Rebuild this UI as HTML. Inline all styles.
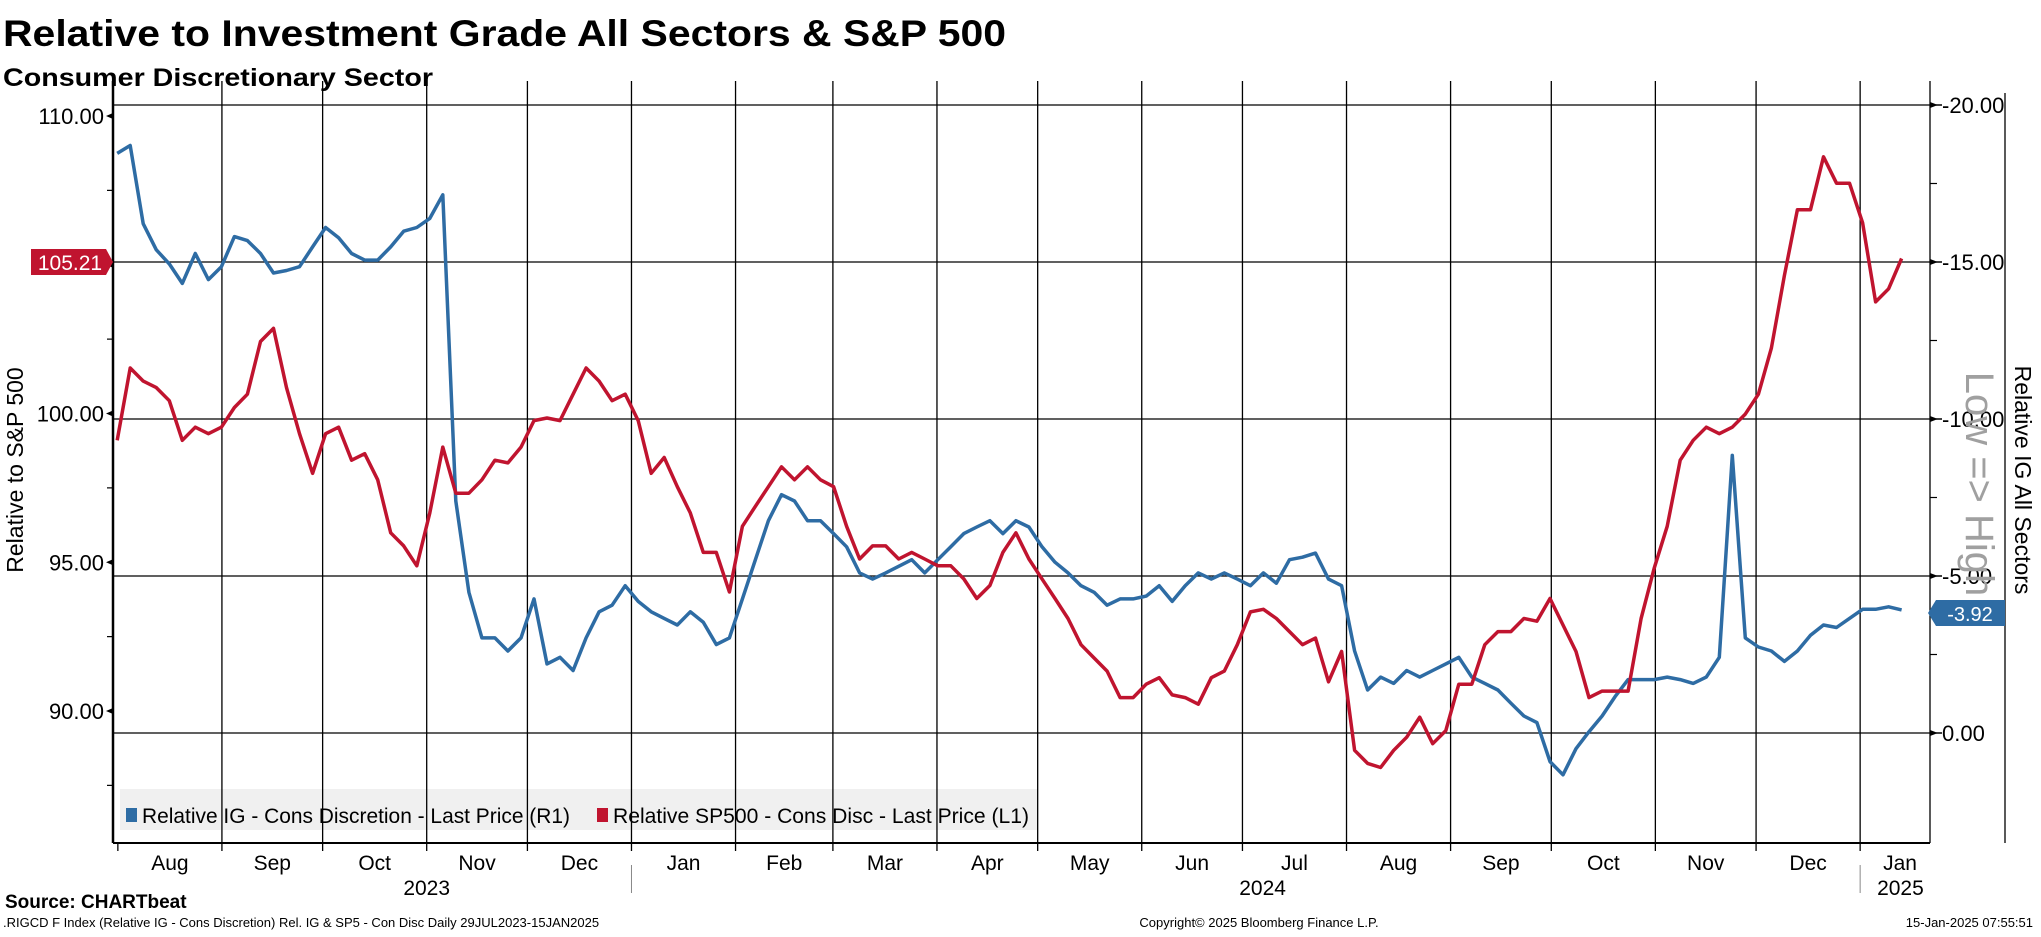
<!DOCTYPE html>
<html><head><meta charset="utf-8"><style>
html,body{margin:0;padding:0;background:#fff;}
body{width:2041px;height:932px;overflow:hidden;font-family:"Liberation Sans",sans-serif;}
svg text{font-family:"Liberation Sans",sans-serif;}
</style></head><body>
<svg id="chart" width="2041" height="932" viewBox="0 0 2041 932" xmlns="http://www.w3.org/2000/svg">
<text x="3" y="46" font-size="37" font-weight="bold" textLength="1003" lengthAdjust="spacingAndGlyphs">Relative to Investment Grade All Sectors &amp; S&amp;P 500</text>
<text x="3" y="86" font-size="25" font-weight="bold" textLength="430" lengthAdjust="spacingAndGlyphs">Consumer Discretionary Sector</text>
<g id="grid"></g>
<rect x="120" y="789" width="918" height="41" fill="#f0f0f0"/>
<g id="vgrid"></g>
<g id="series"></g>
<g id="axes"></g>
<g>
<rect x="126" y="808" width="11" height="14" fill="#2e6ca4"/>
<text x="142" y="823" font-size="21" textLength="428" lengthAdjust="spacingAndGlyphs">Relative IG - Cons Discretion - Last Price (R1)</text>
<rect x="597" y="808" width="11" height="14" fill="#c0142f"/>
<text x="613" y="823" font-size="21" textLength="416" lengthAdjust="spacingAndGlyphs">Relative SP500 - Cons Disc - Last Price (L1)</text>
</g>
<text transform="translate(23,470) rotate(-90)" text-anchor="middle" font-size="23">Relative to S&amp;P 500</text>
<text transform="translate(2015,480) rotate(90)" text-anchor="middle" font-size="23">Relative IG All Sectors</text>
<text transform="translate(1966,484) rotate(90)" text-anchor="middle" font-size="40" fill="#a0a0a0">Low =&gt; High</text>
<g>
<polygon points="31,249 106,249 113,262 106,275 31,275" fill="#c0142f"/>
<text x="70" y="270" text-anchor="middle" font-size="21" fill="#fff">105.21</text>
</g>
<g>
<polygon points="1936,600 2005,600 2005,626 1936,626 1928,613" fill="#2e6ca4"/>
<text x="1970" y="621" text-anchor="middle" font-size="20" fill="#fff">-3.92</text>
</g>
<text x="5" y="908" font-size="19" font-weight="bold">Source: CHARTbeat</text>
<text x="3" y="927" font-size="13">.RIGCD F Index (Relative IG - Cons Discretion) Rel. IG &amp; SP5 - Con Disc  Daily 29JUL2023-15JAN2025</text>
<text x="1259" y="927" text-anchor="middle" font-size="13">Copyright© 2025 Bloomberg Finance L.P.</text>
<text x="2033" y="927" text-anchor="end" font-size="13">15-Jan-2025 07:55:51</text>
</svg>
<script>
// ---- data ----
const sampleStartDay = 0.8;   // days after 2023-07-31
const sampleStepDays = 3.88;
const igValues = [-18.46,-18.71,-16.22,-15.39,-14.94,-14.32,-15.27,-14.44,-14.85,-15.81,-15.68,-15.27,-14.65,-14.73,-14.85,-15.48,-16.10,-15.77,-15.27,-15.06,-15.06,-15.48,-15.98,-16.10,-16.39,-17.14,-7.39,-4.48,-3.03,-3.03,-2.61,-3.03,-4.27,-2.20,-2.41,-1.99,-3.03,-3.86,-4.07,-4.69,-4.19,-3.86,-3.65,-3.44,-3.86,-3.53,-2.82,-3.03,-4.27,-5.52,-6.76,-7.59,-7.39,-6.76,-6.76,-6.35,-5.93,-5.10,-4.90,-5.10,-5.31,-5.52,-5.10,-5.52,-5.93,-6.35,-6.56,-6.76,-6.35,-6.76,-6.56,-5.93,-5.44,-5.10,-4.69,-4.48,-4.07,-4.27,-4.27,-4.36,-4.69,-4.19,-4.69,-5.10,-4.90,-5.10,-4.90,-4.69,-5.10,-4.77,-5.52,-5.60,-5.73,-4.90,-4.69,-2.61,-1.37,-1.78,-1.58,-1.99,-1.78,-1.99,-2.20,-2.41,-1.78,-1.58,-1.37,-0.95,-0.54,-0.33,0.91,1.33,0.50,-0.04,-0.54,-1.16,-1.70,-1.70,-1.70,-1.78,-1.70,-1.58,-1.78,-2.41,-8.84,-3.03,-2.74,-2.61,-2.28,-2.61,-3.11,-3.44,-3.36,-3.65,-3.94,-3.94,-4.02,-3.92];
const spValues = [99.10,101.53,101.09,100.87,100.43,99.10,99.54,99.32,99.54,100.20,100.65,102.42,102.86,100.87,99.32,97.99,99.32,99.54,98.43,98.65,97.77,95.99,95.55,94.88,96.66,98.87,97.32,97.32,97.77,98.43,98.34,98.87,99.76,99.85,99.76,100.65,101.53,101.09,100.43,100.65,99.76,97.99,98.52,97.54,96.66,95.33,95.33,94.00,96.21,96.88,97.54,98.21,97.77,98.21,97.77,97.54,96.21,95.11,95.55,95.55,95.11,95.33,95.11,94.88,94.88,94.44,93.78,94.22,95.33,95.99,95.11,94.44,93.78,93.11,92.23,91.78,91.34,90.45,90.45,90.90,91.12,90.54,90.45,90.23,91.12,91.34,92.23,93.33,93.42,93.11,92.67,92.23,92.45,90.98,92.00,88.68,88.24,88.10,88.68,89.12,89.79,88.90,89.34,90.90,90.90,92.23,92.67,92.67,93.11,93.02,93.78,92.89,92.00,90.45,90.67,90.67,90.67,93.11,94.80,96.21,98.43,99.10,99.54,99.32,99.54,99.98,100.65,102.20,104.64,106.85,106.85,108.63,107.74,107.74,106.41,103.75,104.19,105.21];
const leftTicks = [110, 105, 100, 95, 90];
const leftTickLabels = ["110.00","105.00","100.00","95.00","90.00"];
const rightTicks = [-20, -15, -10, -5, 0];
const rightTickLabels = ["-20.00","-15.00","-10.00","-5.00","0.00"];
const monthDays = [1,32,62,93,123,154,185,214,245,275,306,336,367,398,428,459,489,520];
const monthLabels = ["Aug","Sep","Oct","Nov","Dec","Jan","Feb","Mar","Apr","May","Jun","Jul","Aug","Sep","Oct","Nov","Dec","Jan"];
const yearLabels = ["2023","2024","2025"];
const yearCenterDays = [93,342,532];
const yearBreakDays = [154,520];

// ---- scales ----
const L=113, R=1930, T=81, B=843;
function xDay(d){ return 114.5 + d*3.357; }
function yLeft(v){ return 116 + (110 - v)*29.75; }
function yR(v){ return 733 + v*31.4; }
const NS="http://www.w3.org/2000/svg";
function mk(tag, attrs, parent){ const e=document.createElementNS(NS,tag); for(const k in attrs) e.setAttribute(k,attrs[k]); parent.appendChild(e); return e; }
const grid=document.getElementById('grid'), vgrid=document.getElementById('vgrid'), axes=document.getElementById('axes'), series=document.getElementById('series');

rightTicks.forEach((v,i)=>{
  const y=yR(v);
  const ln=mk('line',{x1:L,x2:R,y1:y,y2:y,stroke:'#000','stroke-width':1.3},grid);
  
  
  const tk=mk('polygon',{points:`${R},${y-3} ${R+8},${y} ${R},${y+3}`,fill:'#000'},axes);
  
  
  mk('line',{x1:R+6,x2:R+12,y1:y,y2:y,stroke:'#000','stroke-width':1.5},axes);
  const t=mk('text',{x:R+12,y:y+8,'font-size':22},axes);
  t.textContent=rightTickLabels[i];
  
  
  if(i<rightTicks.length-1){ const ym=yR(v+2.5); mk('line',{x1:R,x2:R+7,y1:ym,y2:ym,stroke:'#000','stroke-width':1.2},axes); }
});
leftTicks.forEach((v,i)=>{
  const y=yLeft(v);
  const tk=mk('polygon',{points:`${L},${y-3} ${L-7},${y} ${L},${y+3}`,fill:'#000'},axes);
  
  
  const t=mk('text',{x:L-9,y:y+8,'font-size':22,'text-anchor':'end'},axes);
  t.textContent=leftTickLabels[i];
  
  
  const ym=yLeft(v-2.5); mk('line',{x1:L-6,x2:L,y1:ym,y2:ym,stroke:'#000','stroke-width':1.2},axes);
});
monthDays.forEach((d,i)=>{
  const x=xDay(d);
  if(i>0){ const ln=mk('line',{x1:x,x2:x,y1:T,y2:B,stroke:'#000','stroke-width':1.3},vgrid);
    
     }
  mk('line',{x1:x,x2:x,y1:B,y2:B+8,stroke:'#000','stroke-width':1.3},axes);
  const nx = i<monthDays.length-1 ? xDay(monthDays[i+1]) : R;
  const cx = i<monthDays.length-1 ? (x+nx)/2 : R-30;
  const t=mk('text',{x:cx,y:B+27,'font-size':21,'text-anchor':'middle'},axes);
  t.textContent=monthLabels[i];
  
  
});
yearLabels.forEach((lab,i)=>{
  const t=mk('text',{x:xDay(yearCenterDays[i]),y:B+52,'font-size':21,'text-anchor':'middle'},axes);
  t.textContent=lab;
  
  
});
yearBreakDays.forEach(d=>{ const x=xDay(d); mk('line',{x1:x,x2:x,y1:B+22,y2:B+50,stroke:'#888','stroke-width':1},axes); });
mk('line',{x1:L,x2:L,y1:T,y2:B,stroke:'#000','stroke-width':2.5},axes);
mk('line',{x1:L,x2:R,y1:B,y2:B,stroke:'#000','stroke-width':2},axes);
mk('line',{x1:R,x2:R,y1:T,y2:B,stroke:'#000','stroke-width':1.3},axes);
mk('line',{x1:2005,x2:2005,y1:93,y2:B,stroke:'#000','stroke-width':1.3},axes);

function path(vals, yf){
  return vals.map((v,i)=>(i?'L':'M')+xDay(sampleStartDay+i*sampleStepDays).toFixed(1)+','+yf(v).toFixed(1)).join(' ');
}
const p1=mk('path',{d:path(igValues,yR),fill:'none',stroke:'#2e6ca4','stroke-width':3.5,'stroke-linejoin':'round'},series);


const p2=mk('path',{d:path(spValues,yLeft),fill:'none',stroke:'#c0142f','stroke-width':3.5,'stroke-linejoin':'round'},series);


</script>
</body></html>
